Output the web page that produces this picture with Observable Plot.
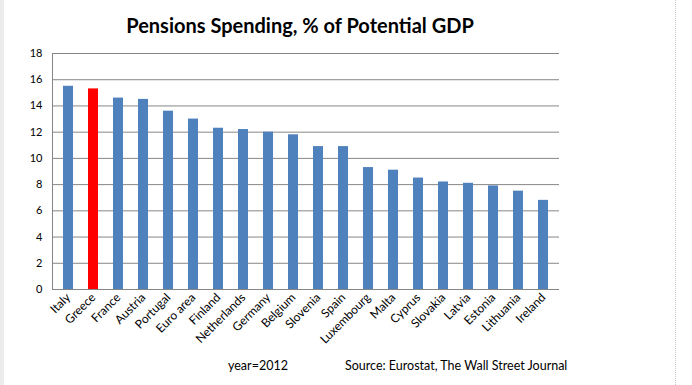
<!DOCTYPE html>
<html><head><meta charset="utf-8">
<script src="https://cdn.jsdelivr.net/npm/d3@7"></script>
<script src="https://cdn.jsdelivr.net/npm/@observablehq/plot@0.6"></script>
<style>
body{margin:0;background:#fff;font-family:Lato,"Open Sans",sans-serif;}
#wrap{position:relative;width:692px;height:385px;overflow:hidden;background:#fff;}
#leftbar{position:absolute;left:0;top:0;width:4px;height:385px;background:#ececec;}
#rightline{position:absolute;left:675px;top:0;width:0;height:385px;border-left:1px dotted #c8c8c8;}
#title{position:absolute;left:0;width:600px;top:13px;text-align:center;font-weight:bold;font-size:20px;color:#000;}
#chart{position:absolute;left:0;top:44px;}
.foot{position:absolute;top:358px;font-size:12.5px;color:#000;white-space:nowrap;}
</style></head>
<body>
<div id="wrap">
<div id="leftbar"></div>
<div id="rightline"></div>
<div id="title">Pensions Spending, % of Potential GDP</div>
<div id="chart"></div>
<div class="foot" id="year" style="left:228px">year=2012</div>
<div class="foot" id="source" style="left:345px">Source: Eurostat, The Wall Street Journal</div>
</div>
<script>
const countries = ["Italy","Greece","France","Austria","Portugal","Euro area","Finland","Netherlands","Germany","Belgium","Slovenia","Spain","Luxembourg","Malta","Cyprus","Slovakia","Latvia","Estonia","Lithuania","Ireland"];
const values = [15.5,15.3,14.6,14.5,13.6,13.0,12.3,12.2,12.0,11.8,10.9,10.9,9.3,9.1,8.5,8.2,8.1,7.9,7.5,6.8];
const highlight = "Greece";
const yTicks = [0,2,4,6,8,10,12,14,16,18];

const data = countries.map((c, i) => ({country: c, value: values[i]}));

const chart = Plot.plot({
  width: 692, height: 308,
  marginTop: 9, marginBottom: 63, marginLeft: 52, marginRight: 133,
  style: {fontFamily: "Lato, 'Open Sans', sans-serif", fontSize: "11px", color: "#000", background: "transparent"},
  x: {domain: countries, paddingInner: 0.6, paddingOuter: 0.3, label: null},
  y: {domain: [0, 18], label: null},
  color: {type: "identity"},
  marks: [
    Plot.gridY({ticks: yTicks, stroke: "#868686", strokeOpacity: 1}),
    Plot.frame({anchor: "left", stroke: "#868686"}),
    Plot.barY(data, {x: "country", y: "value", fill: d => d.country === highlight ? "#FF0000" : "#4F81BD"}),
    Plot.ruleY([0], {stroke: "#868686"}),
    Plot.axisY({ticks: yTicks, tickSize: 0, tickPadding: 10, label: null}),
    Plot.axisX({tickSize: 0, tickRotate: -45, tickPadding: 6, fontSize: 12, label: null})
  ]
});
document.getElementById("chart").appendChild(chart);
</script>
</body></html>
